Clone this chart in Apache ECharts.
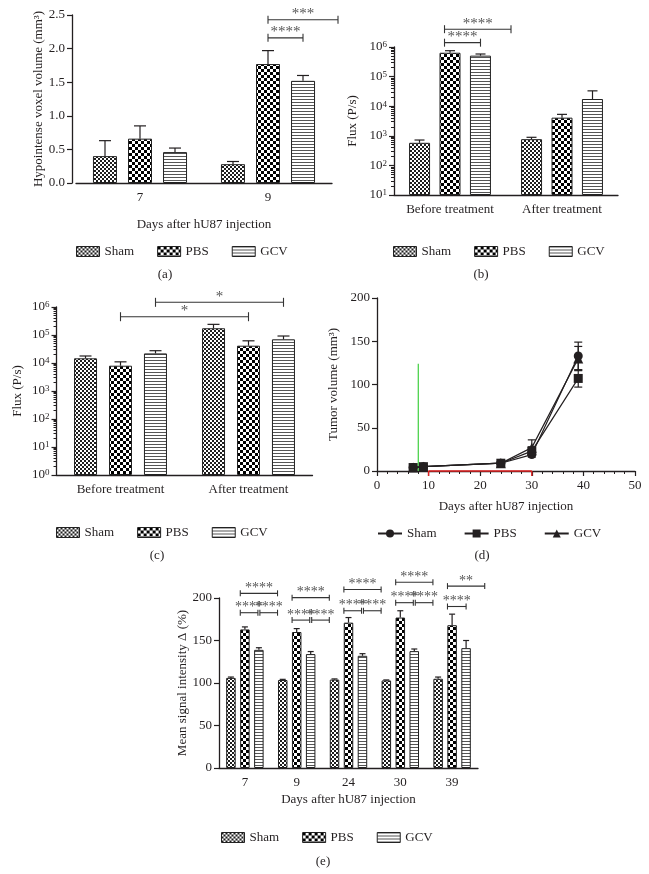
<!DOCTYPE html>
<html>
<head>
<meta charset="utf-8">
<script src="https://cdn.jsdelivr.net/npm/echarts@6/dist/echarts.min.js"></script>
<style>
html, body { margin: 0; padding: 0; background: #fff; }
#main { width: 649px; height: 874px; }
</style>
</head>
<body>
<div id="main"></div>
<script>
// groups
var names = ['Sham', 'PBS', 'GCV'];

// (a) hypointense voxel volume, mm3 (mean, error above mean)
var aCats = ['7', '9'];
var aSham = [0.40, 0.28], aShamErr = [0.23, 0.04];
var aPBS = [0.66, 1.77], aPBSErr = [0.19, 0.20];
var aGCV = [0.46, 1.52], aGCVErr = [0.06, 0.08];
// brackets: [cat1, slot1, cat2, slot2, y, label]
var aBrackets = [[1, 0, 1, 1, 2.16, '****'], [1, 0, 1, 2, 2.43, '***']];

// (b) flux before / after treatment
var bCats = ['Before treatment', 'After treatment'];
var bSham = [580, 770], bShamErr = [140, 120];
var bPBS = [640000, 4100], bPBSErr = [110000, 1200];
var bGCV = [510000, 17500], bGCVErr = [70000, 15500];
var bBrackets = [[0, -0.18, 0, 1, 1.4e6, '****'], [0, -0.18, 0, 2, 4e6, '****']];

// (c) flux before / after treatment
var cCats = ['Before treatment', 'After treatment'];
var cSham = [14700, 174000], cShamErr = [3100, 66000];
var cPBS = [8000, 41500], cPBSErr = [3000, 20500];
var cGCV = [22000, 70000], cGCVErr = [5500, 22000];
var cBrackets = [[0, 0, 1, 0, 4.5e5, '*'], [0, 1, 1, 1, 1.47e6, '*']];

// (d) tumor volume over time
var dDays = [7, 9, 24, 30, 39];
var dSham = [4, 5, 9, 19, 133], dShamErr = [1, 1, 1.5, 3, 16];
var dPBS = [4, 5, 9, 23, 107], dPBSErr = [1, 1, 1.5, 5, 10];
var dGCV = [4, 5, 9, 27, 130], dGCVErr = [1, 1, 1.5, 9, 14];
var dInjection = [8, 124];   // day, line height
var dTreatment = [10, 30];   // treatment window (days)

// (e) mean signal intensity
var eCats = ['7', '9', '24', '30', '39'];
var eSham = [106, 103.5, 104, 103, 105], eShamErr = [1, 0.8, 0.8, 0.6, 2];
var ePBS = [163, 160, 171, 177, 168], ePBSErr = [3, 4, 6, 8, 13];
var eGCV = [139, 134, 132, 137.5, 141], eGCVErr = [2.5, 3, 2.5, 2.5, 9];
var eBrackets = [
  [0, -0.33, 0, 2.33, 205.5, '****'], [0, -0.33, 0, 0.93, 182.7, '****'], [0, 1.07, 0, 2.33, 182.7, '****'],
  [1, -0.33, 1, 2.33, 200.4, '****'], [1, -0.33, 1, 0.93, 174, '****'], [1, 1.07, 1, 2.33, 174, '****'],
  [2, -0.33, 2, 2.33, 210, '****'], [2, -0.33, 2, 0.93, 185, '****'], [2, 1.07, 2, 2.33, 185, '****'],
  [3, -0.33, 3, 2.33, 218.5, '****'], [3, -0.33, 3, 0.93, 194.5, '****'], [3, 1.07, 3, 2.33, 194.5, '****'],
  [4, -0.33, 4, 2.33, 214, '**'], [4, -0.33, 4, 1, 190, '****']
];

var font = 'Liberation Serif';
var ink = '#231f20';

function tile(w, h, draw) {
  var c = document.createElement('canvas');
  c.width = w; c.height = h;
  var x = c.getContext('2d');
  x.fillStyle = '#fff';
  x.fillRect(0, 0, w, h);
  draw(x);
  return { image: c, repeat: 'repeat' };
}
var pats = [
  tile(4, 4, function (x) { x.fillStyle = '#1e1e1e'; x.fillRect(0, 0, 2, 2); x.fillRect(2, 2, 2, 2); }),
  tile(6, 6, function (x) { x.fillStyle = '#000'; x.fillRect(0, 0, 3, 3); x.fillRect(3, 3, 3, 3); }),
  tile(3, 3, function (x) { x.fillStyle = '#555'; x.fillRect(0, 0, 3, 1); })
];

var series = [];

function errorSeries(gi, means, errs, slot, pitch, cap) {
  return {
    type: 'custom', xAxisIndex: gi, yAxisIndex: gi, clip: false, silent: true, z: 3,
    data: means.map(function (m, i) { return [i, m, m + errs[i]]; }),
    encode: { x: 0, y: [1, 2] },
    renderItem: function (params, api) {
      var base = api.coord([api.value(0), api.value(1)]);
      var top = api.coord([api.value(0), api.value(2)]);
      var x = base[0] + slot * pitch;
      return {
        type: 'group', children: [
          { type: 'line', shape: { x1: x, y1: base[1], x2: x, y2: top[1] }, style: { stroke: ink, lineWidth: 1.2 } },
          { type: 'line', shape: { x1: x - cap / 2, y1: top[1], x2: x + cap / 2, y2: top[1] }, style: { stroke: ink, lineWidth: 1.2 } }
        ]
      };
    }
  };
}

function bracketSeries(gi, rows, pitch, tick, fs) {
  return {
    type: 'custom', xAxisIndex: gi, yAxisIndex: gi, clip: false, silent: true, z: 6,
    data: rows.map(function (r) { return [r[0], r[1], r[2], r[3], r[4]]; }),
    encode: { x: 0, y: 4 },
    renderItem: function (params, api) {
      var r = rows[params.dataIndex];
      var p1 = api.coord([r[0], r[4]]);
      var p2 = api.coord([r[2], r[4]]);
      var x1 = p1[0] + r[1] * pitch, x2 = p2[0] + r[3] * pitch, y = p1[1];
      var st = { stroke: '#333', lineWidth: 1.1 };
      return {
        type: 'group', children: [
          { type: 'line', shape: { x1: x1, y1: y, x2: x2, y2: y }, style: st },
          { type: 'line', shape: { x1: x1, y1: y - tick, x2: x1, y2: y + tick }, style: st },
          { type: 'line', shape: { x1: x2, y1: y - tick, x2: x2, y2: y + tick }, style: st },
          { type: 'text', style: {
              text: r[5], x: (x1 + x2) / 2, y: y + 2,
              align: 'center', verticalAlign: 'bottom', textAlign: 'center', textVerticalAlign: 'bottom',
              font: fs + 'px "' + font + '"', fill: '#555' } }
        ]
      };
    }
  };
}

function addBars(gi, vals, errs, bw, gap, pitch, cap) {
  names.forEach(function (n, k) {
    series.push({
      type: 'bar', name: n, xAxisIndex: gi, yAxisIndex: gi, data: vals[k],
      barWidth: bw, barGap: gap, silent: true,
      itemStyle: { color: pats[k], borderColor: '#222', borderWidth: 1 }
    });
  });
  names.forEach(function (n, k) {
    series.push(errorSeries(gi, vals[k], errs[k], k - 1, pitch, cap));
  });
}

addBars(0, [aSham, aPBS, aGCV], [aShamErr, aPBSErr, aGCVErr], 24, '46%', 35, 12);
series.push(bracketSeries(0, aBrackets, 35, 4, 15));
addBars(1, [bSham, bPBS, bGCV], [bShamErr, bPBSErr, bGCVErr], 21, '45%', 30.5, 10);
series.push(bracketSeries(1, bBrackets, 30.5, 4, 15));
addBars(2, [cSham, cPBS, cGCV], [cShamErr, cPBSErr, cGCVErr], 23, '52%', 35, 12);
series.push(bracketSeries(2, cBrackets, 35, 4.5, 15));
addBars(4, [eSham, ePBS, eGCV], [eShamErr, ePBSErr, eGCVErr], 9.5, '47%', 14, 6);
series.push(bracketSeries(4, eBrackets, 14, 3, 14));

// (d) lines
var dSets = [[dSham, dShamErr, 'circle', 9], [dPBS, dPBSErr, 'rect', 9], [dGCV, dGCVErr, 'triangle', 10]];
dSets.forEach(function (s, k) {
  series.push({
    type: 'line', name: names[k] + ' ', xAxisIndex: 3, yAxisIndex: 3, z: 4,
    data: dDays.map(function (d, i) { return [d, s[0][i]]; }),
    symbol: s[2], symbolSize: s[3], showAllSymbol: true,
    lineStyle: { color: ink, width: 1.2 }, itemStyle: { color: ink }
  });
  series.push({
    type: 'custom', xAxisIndex: 3, yAxisIndex: 3, clip: false, silent: true, z: 3,
    data: dDays.map(function (d, i) { return [d, s[0][i] - s[1][i], s[0][i] + s[1][i]]; }),
    encode: { x: 0, y: [1, 2] },
    renderItem: function (params, api) {
      var lo = api.coord([api.value(0), api.value(1)]);
      var hi = api.coord([api.value(0), api.value(2)]);
      var st = { stroke: ink, lineWidth: 1.2 };
      return {
        type: 'group', children: [
          { type: 'line', shape: { x1: lo[0], y1: lo[1], x2: hi[0], y2: hi[1] }, style: st },
          { type: 'line', shape: { x1: lo[0] - 4, y1: lo[1], x2: lo[0] + 4, y2: lo[1] }, style: st },
          { type: 'line', shape: { x1: hi[0] - 4, y1: hi[1], x2: hi[0] + 4, y2: hi[1] }, style: st }
        ]
      };
    }
  });
});
// injection day (green) and treatment window (red)
series.push({
  type: 'custom', xAxisIndex: 3, yAxisIndex: 3, clip: false, silent: true, z: 2,
  data: [[dInjection[0], 0, dInjection[1]]],
  encode: { x: 0, y: [1, 2] },
  renderItem: function (params, api) {
    var a = api.coord([api.value(0), api.value(1)]);
    var b = api.coord([api.value(0), api.value(2)]);
    return { type: 'line', shape: { x1: a[0], y1: a[1], x2: b[0], y2: b[1] }, style: { stroke: '#3ecf3e', lineWidth: 1.2 } };
  }
});
series.push({
  type: 'custom', xAxisIndex: 3, yAxisIndex: 3, clip: false, silent: true, z: 5,
  data: [[dTreatment[0], dTreatment[1], 0]],
  encode: { x: [0, 1], y: 2 },
  renderItem: function (params, api) {
    var a = api.coord([api.value(0), api.value(2)]);
    var b = api.coord([api.value(1), api.value(2)]);
    var st = { stroke: '#e02020', lineWidth: 1.4 };
    return {
      type: 'group', children: [
        { type: 'line', shape: { x1: a[0], y1: a[1], x2: b[0], y2: b[1] }, style: st },
        { type: 'line', shape: { x1: a[0], y1: a[1], x2: a[0], y2: a[1] + 5 }, style: st },
        { type: 'line', shape: { x1: b[0], y1: b[1], x2: b[0], y2: b[1] + 5 }, style: st }
      ]
    };
  }
});

var txt = { fontFamily: font, fontSize: 13, color: ink };
var axLine = { show: true, lineStyle: { color: ink, width: 1.3 } };
var axTick = { show: true, length: 5, lineStyle: { color: ink, width: 1.2 } };

function catX(gi, cats, name) {
  return {
    type: 'category', gridIndex: gi, data: cats, boundaryGap: true,
    axisLine: axLine, axisTick: { show: false },
    axisLabel: Object.assign({ margin: 8, interval: 0 }, txt),
    name: name || '', nameLocation: 'middle', nameGap: 34, nameTextStyle: txt
  };
}
function valY(gi, min, max, interval, name, gap, fmt) {
  return {
    type: 'value', gridIndex: gi, min: min, max: max, interval: interval,
    axisLine: axLine, axisTick: axTick, splitLine: { show: false },
    axisLabel: Object.assign({ margin: 7, formatter: fmt }, txt),
    name: name, nameLocation: 'middle', nameGap: gap, nameTextStyle: txt
  };
}
function logY(gi, min, max, name, gap) {
  return {
    type: 'log', logBase: 10, gridIndex: gi, min: min, max: max, startValue: min,
    splitNumber: Math.round(Math.log(max / min) / Math.LN10),
    axisLine: axLine, axisTick: axTick, splitLine: { show: false },
    minorTick: { show: true, splitNumber: 9, length: 3, lineStyle: { color: ink, width: 1 } },
    minorSplitLine: { show: false },
    axisLabel: Object.assign({
      margin: 7,
      formatter: function (v) { return '10{s|' + Math.round(Math.log(v) / Math.LN10) + '}'; },
      rich: { s: { fontFamily: font, fontSize: 9, color: ink, verticalAlign: 'top', lineHeight: 8 } }
    }, txt),
    name: name, nameLocation: 'middle', nameGap: gap, nameTextStyle: txt
  };
}

var xA = catX(0, aCats, 'Days after hU87 injection');
xA.nameGap = 35;
var xB = catX(1, bCats);
var xC = catX(2, cCats);
var xD = {
  type: 'value', gridIndex: 3, min: 0, max: 50, interval: 10,
  axisLine: axLine, axisTick: axTick, splitLine: { show: false },
  minorTick: { show: true, splitNumber: 5, length: 3, lineStyle: { color: ink, width: 1 } },
  minorSplitLine: { show: false },
  axisLabel: Object.assign({ margin: 8 }, txt),
  name: 'Days after hU87 injection', nameLocation: 'middle', nameGap: 29, nameTextStyle: txt
};
var xE = catX(4, eCats, 'Days after hU87 injection');
xE.nameGap = 25;

var yA = valY(0, 0, 2.5, 0.5, 'Hypointense voxel volume (mm\u00b3)', 23, function (v) { return v.toFixed(1); });
yA.offset = 4;
var yB = logY(1, 10, 1e6, 'Flux (P/s)', 35);
var yC = logY(2, 1, 1e6, 'Flux (P/s)', 32);
var yD = valY(3, 0, 200, 50, 'Tumor volume (mm\u00b3)', 37);
var yE = valY(4, 0, 200, 50, 'Mean signal intensity \u0394 (%)', 30);

var legBase = {
  orient: 'horizontal', itemWidth: 23, itemHeight: 10, itemGap: 23, padding: 0,
  selectedMode: false, textStyle: txt,
  itemStyle: { borderColor: '#222', borderWidth: 1 }
};
function barLegend(left, top) {
  return Object.assign({}, legBase, { left: left, top: top, icon: 'rect', data: names });
}
var legD = Object.assign({}, legBase, {
  left: 377, top: 527, itemGap: 27, itemWidth: 24, itemHeight: 10,
  itemStyle: {}, data: names.map(function (n) { return n + ' '; }),
  formatter: function (n) { return n.trim(); }
});

function caption(t, x, y) {
  return {
    type: 'text', x: x, y: y, silent: true,
    style: { text: t, font: '13px "' + font + '"', fill: ink, align: 'center', verticalAlign: 'middle', textAlign: 'center', textVerticalAlign: 'middle' }
  };
}

var myChart = echarts.init(document.getElementById('main'));
var option = {
  animation: false,
  backgroundColor: '#fff',
  textStyle: { fontFamily: font },
  grid: [
    { left: 76, top: 15, width: 256, height: 168, outerBoundsMode: 'none' },
    { left: 394, top: 47, width: 224, height: 148, outerBoundsMode: 'none' },
    { left: 56.5, top: 307, width: 256, height: 168, outerBoundsMode: 'none' },
    { left: 377, top: 298, width: 258, height: 173, outerBoundsMode: 'none' },
    { left: 219, top: 598, width: 259, height: 170, outerBoundsMode: 'none' }
  ],
  xAxis: [xA, xB, xC, xD, xE],
  yAxis: [yA, yB, yC, yD, yE],
  legend: [barLegend(76, 245), barLegend(393, 245), barLegend(56, 526), legD, barLegend(221, 831)],
  graphic: [
    caption('(a)', 165, 275), caption('(b)', 481, 275), caption('(c)', 157, 556),
    caption('(d)', 482, 556), caption('(e)', 323, 862)
  ],
  series: series
};
myChart.setOption(option);
</script>
</body>
</html>
